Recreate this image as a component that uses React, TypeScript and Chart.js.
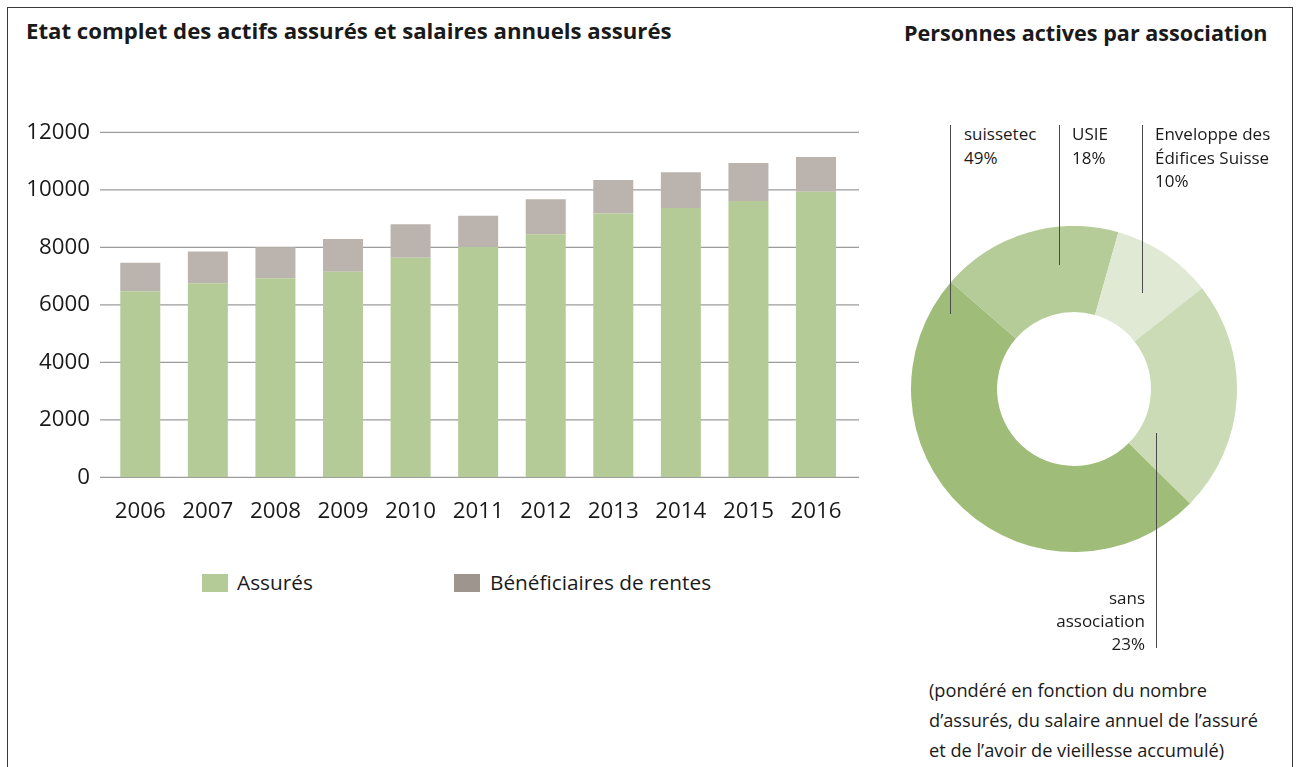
import React, { useEffect, useRef } from "react";
import { Chart, registerables } from "chart.js";

Chart.register(...registerables);

// ---------- data ----------
const years = ["2006", "2007", "2008", "2009", "2010", "2011", "2012", "2013", "2014", "2015", "2016"];
const assures = [6470, 6750, 6920, 7150, 7640, 8010, 8450, 9180, 9370, 9610, 9930];
const beneficiaires = [990, 1100, 1080, 1140, 1160, 1090, 1220, 1160, 1240, 1320, 1210];
const yMax = 12000;
const yStep = 2000;

const associations = ["suissetec", "USIE", "Enveloppe des Édifices Suisse", "sans association"];
const shares = [49, 18, 10, 23];

const seriesNames = ["Assurés", "Bénéficiaires de rentes"];

// ---------- styles ----------
const FONT = "'Open Sans', 'Noto Sans', sans-serif";
const TEXT = "#1a1a1a";
const GREEN = "#b4cb97";
const GREY = "#bbb3ad";
const GREY_LEGEND = "#9e958f";
const DONUT_COLORS = ["#9fbd78", "#b5cc98", "#dfe9d3", "#cadbb5"];

// top for a div so that its first baseline lands on `baseline` (Open Sans metrics)
const topFor = (baseline: number, f: number, lh: number) =>
  baseline - ((lh - 1.362 * f) / 2 + 1.069 * f);

const extGrid = {
  id: "extGrid",
  beforeDatasetsDraw(chart: any) {
    const { ctx, chartArea, scales } = chart;
    const y = scales.y;
    ctx.save();
    ctx.strokeStyle = "#9c9c9c";
    ctx.lineWidth = 1.3;
    y.ticks.forEach((t: any) => {
      const py = y.getPixelForValue(t.value);
      ctx.beginPath();
      ctx.moveTo(chartArea.left - 6.5, py);
      ctx.lineTo(chartArea.right + 9.2, py);
      ctx.stroke();
    });
    ctx.restore();
  },
};

function BarChart() {
  const ref = useRef<HTMLCanvasElement>(null);
  useEffect(() => {
    const chart = new Chart(ref.current!, {
      type: "bar",
      data: {
        labels: years,
        datasets: [
          { label: seriesNames[0], data: assures, backgroundColor: GREEN, borderWidth: 0 },
          { label: seriesNames[1], data: beneficiaires, backgroundColor: GREY, borderWidth: 0 },
        ],
      },
      plugins: [extGrid],
      options: {
        responsive: false,
        animation: false,
        devicePixelRatio: 1,
        layout: { padding: { top: 132.3, right: 30.2, bottom: 12.7, left: 0 } },
        datasets: { bar: { categoryPercentage: 1, barPercentage: 0.592 } },
        plugins: { legend: { display: false }, tooltip: { enabled: false }, title: { display: false } },
        scales: {
          x: {
            stacked: true,
            grid: { display: false, drawTicks: false },
            border: { display: false },
            ticks: { color: TEXT, font: { family: FONT, size: 22.3 }, padding: 21, maxRotation: 0 },
            afterFit: (s: any) => { s.height = 50; },
          },
          y: {
            stacked: true,
            min: 0,
            max: yMax,
            grid: { display: false, drawTicks: false },
            border: { display: false },
            ticks: {
              stepSize: yStep,
              color: TEXT,
              font: { family: FONT, size: 22.3 },
              padding: 16.5,
              callback: (v: any) => String(v),
            },
            afterFit: (s: any) => { s.width = 106.5; },
          },
        },
      },
    });
    return () => chart.destroy();
  }, []);
  return (
    <canvas
      ref={ref}
      width={880}
      height={540}
      style={{ position: "absolute", left: 0, top: 0, width: 880, height: 540 }}
    />
  );
}

function Donut() {
  const ref = useRef<HTMLCanvasElement>(null);
  useEffect(() => {
    const chart = new Chart(ref.current!, {
      type: "doughnut",
      data: {
        labels: associations,
        datasets: [{ data: shares, backgroundColor: DONUT_COLORS, borderWidth: 0, hoverOffset: 0 }],
      },
      options: {
        responsive: false,
        animation: false,
        devicePixelRatio: 1,
        cutout: "47.2%",
        rotation: 134.6,
        layout: { padding: 0 },
        plugins: { legend: { display: false }, tooltip: { enabled: false } },
      },
    });
    return () => chart.destroy();
  }, []);
  return (
    <canvas
      ref={ref}
      width={326}
      height={326}
      style={{ position: "absolute", left: 911, top: 226, width: 326, height: 326 }}
    />
  );
}

function Lines(props: { x: number; baseline: number; size: number; lh: number; lines: string[]; align?: "left" | "right"; bold?: boolean }) {
  const { x, baseline, size, lh, lines, align = "left", bold } = props;
  const style: any = {
    position: "absolute",
    top: topFor(baseline, size, lh),
    fontFamily: FONT,
    fontSize: size,
    lineHeight: lh + "px",
    color: TEXT,
    whiteSpace: "nowrap",
    fontWeight: bold ? 700 : 400,
    textAlign: align,
  };
  if (align === "right") style.right = 1296 - x;
  else style.left = x;
  return (
    <div style={style}>
      {lines.map((l, i) => (
        <div key={i}>{l}</div>
      ))}
    </div>
  );
}

const VLine = (p: { x: number; y1: number; y2: number }) => (
  <div style={{ position: "absolute", left: p.x, top: p.y1, width: 1, height: p.y2 - p.y1, background: "#4a4a4a" }} />
);

export default function App() {
  return (
    <div style={{ position: "absolute", left: 0, top: 0, width: 1296, height: 767, background: "#fff", overflow: "hidden" }}>
      <div style={{ position: "absolute", left: 7, top: 7, width: 1284, height: 800, border: "1px solid #3a3a3a" }} />
      <Lines x={26} baseline={40} size={22.2} lh={30} bold lines={["Etat complet des actifs assurés et salaires annuels assurés"]} />
      <Lines x={904} baseline={41} size={21.6} lh={30} bold lines={["Personnes actives par association"]} />

      <BarChart />

      {/* legend */}
      <div style={{ position: "absolute", left: 202, top: 574, width: 26, height: 18, background: GREEN }} />
      <Lines x={237} baseline={591} size={20.8} lh={25} lines={[seriesNames[0]]} />
      <div style={{ position: "absolute", left: 454, top: 574, width: 26, height: 18, background: GREY_LEGEND }} />
      <Lines x={490} baseline={591} size={20.8} lh={25} lines={[seriesNames[1]]} />

      <Donut />

      {/* donut annotations */}
      <VLine x={950} y1={125} y2={314} />
      <VLine x={1059} y1={125} y2={265} />
      <VLine x={1142} y1={125} y2={293} />
      <VLine x={1156} y1={433} y2={648} />
      <Lines x={964} baseline={140.7} size={17} lh={23.3} lines={[associations[0], shares[0] + "%"]} />
      <Lines x={1072} baseline={140.7} size={17} lh={23.3} lines={[associations[1], shares[1] + "%"]} />
      <Lines x={1155} baseline={140.7} size={17} lh={23.3} lines={["Enveloppe des", "Édifices Suisse", shares[2] + "%"]} />
      <Lines x={1145} baseline={605} size={17} lh={22.9} align="right" lines={["sans", "association", shares[3] + "%"]} />

      <Lines
        x={929}
        baseline={696.7}
        size={18.2}
        lh={30}
        lines={[
          "(pondéré en fonction du nombre",
          "d’assurés, du salaire annuel de l’assuré",
          "et de l’avoir de vieillesse accumulé)",
        ]}
      />
    </div>
  );
}
